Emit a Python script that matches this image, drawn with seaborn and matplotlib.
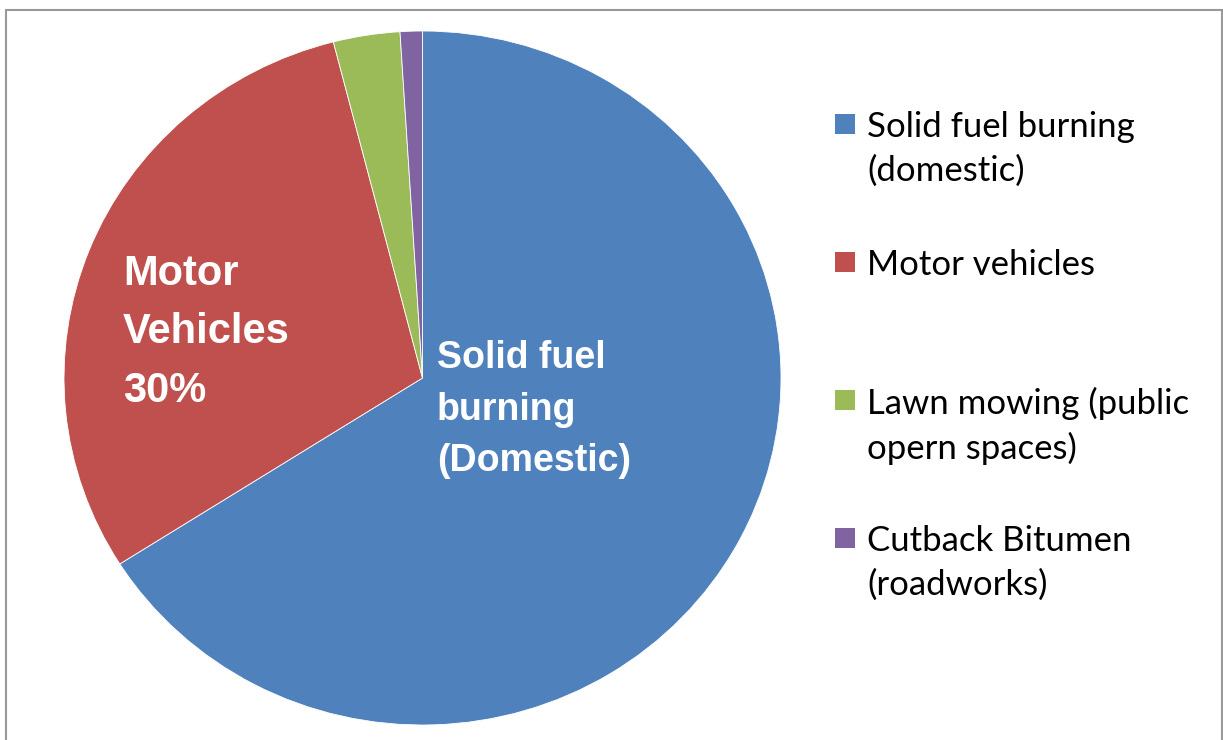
import numpy as np
import pandas as pd
from matplotlib import pyplot as plt
from matplotlib.patches import Rectangle
import seaborn as sns

# PM sources (share of emissions, %)
sources = ['Solid fuel burning (domestic)', 'Motor vehicles',
           'Lawn mowing (public opern spaces)', 'Cutback Bitumen (roadworks)']
legend_labels = ['Solid fuel burning\n(domestic)', 'Motor vehicles',
                 'Lawn mowing (public\nopern spaces)', 'Cutback Bitumen\n(roadworks)']
shares = [66, 30, 3, 1]
slice_colors = ['#4F81BD', '#C0504D', '#9BBB59', '#8064A2']

df = pd.DataFrame({'source': sources, 'share': shares})

sns.set_theme(style='white')
plt.rcParams['font.family'] = ['Liberation Sans', 'DejaVu Sans']
pal = sns.color_palette(slice_colors)

W, H = 1223, 740
fig = plt.figure(figsize=(W / 100, H / 100), dpi=100)

# pie box in pixels: left 64, right 781, top 31, bottom 725
ax = fig.add_axes([64 / W, 15 / H, 717 / W, 694 / H])
ax.pie(df['share'], colors=pal, startangle=90, counterclock=False,
       wedgeprops=dict(edgecolor='white', linewidth=0.6))
ax.set_aspect('auto')
ax.set_xlim(-1, 1)
ax.set_ylim(-1, 1)
ax.axis('off')

# labels inside slices
ax.text(-0.835, 0.132, 'Motor\nVehicles\n30%', color='white', fontsize=30,
        fontweight='bold', ha='left', va='center', linespacing=1.6)
ax.text(0.04, -0.091, 'Solid fuel\nburning\n(Domestic)', color='white', fontsize=27,
        fontweight='bold', ha='left', va='center', linespacing=1.55)

# legend on the right
for i, (lab, col) in enumerate(zip(legend_labels, pal)):
    yc = 124 + 138 * i
    fig.patches.append(Rectangle((835 / W, 1 - (yc + 10) / H), 20 / W, 20 / H,
                                 transform=fig.transFigure, facecolor=col,
                                 edgecolor='none'))
    fig.text(867 / W, 1 - (yc - 13) / H, lab, fontsize=25, family=['Lato', 'DejaVu Sans'],
             color='black', ha='left', va='top', linespacing=1.45)

# chart frame
fig.patches.append(Rectangle((6 / W, -0.05), 1216 / W, 1.05 - 10 / H,
                             transform=fig.transFigure, facecolor='none',
                             edgecolor='#999999', linewidth=1.5))

fig.savefig('out.png', dpi=100)
